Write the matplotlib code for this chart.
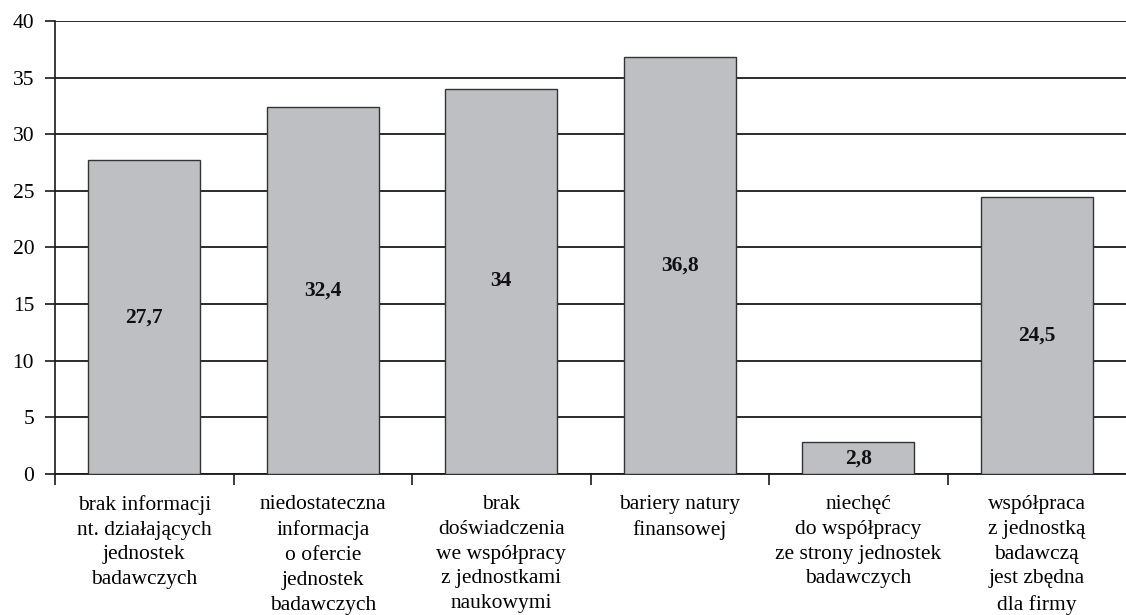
import matplotlib
matplotlib.use("Agg")
import matplotlib.pyplot as plt
import numpy as np

categories = [
    "brak informacji\nnt. działających\njednostek\nbadawczych",
    "niedostateczna\ninformacja\no ofercie\njednostek\nbadawczych",
    "brak\ndoświadczenia\nwe współpracy\nz jednostkami\nnaukowymi",
    "bariery natury\nfinansowej",
    "niechęć\ndo współpracy\nze strony jednostek\nbadawczych",
    "współpraca\nz jednostką\nbadawczą\njest zbędna\ndla firmy",
]
values = [27.7, 32.4, 34.0, 36.8, 2.8, 24.5]
value_labels = ["27,7", "32,4", "34", "36,8", "2,8", "24,5"]
yticks = [0, 5, 10, 15, 20, 25, 30, 35, 40]

plt.rcParams['font.family'] = ['Liberation Serif', 'DejaVu Serif']

fig = plt.figure(figsize=(11.26, 6.15), dpi=100)
ax = fig.add_axes([55/1126, 1 - 474/615, 1 - 55/1126, (474 - 21)/615])

x = np.arange(len(categories))
ax.set_axisbelow(True)
ax.yaxis.grid(True, color='#1a1a1a', linewidth=1.3)
bars = ax.bar(x, values, width=0.63, color='#bebfc2', edgecolor='#333333', linewidth=1.0, zorder=3)

for xi, v, lab in zip(x, values, value_labels):
    ax.text(xi, v / 2, lab, ha='center', va='center', fontsize=15.5, fontweight='bold', color='#111111', zorder=4)

ax.set_xlim(-0.5, 5.5)
ax.set_ylim(0, 40)
ax.set_yticks(yticks)
ax.set_yticklabels([str(t) for t in yticks], fontsize=15.5)
ax.tick_params(axis='y', length=7, width=1.2, color='#1a1a1a', pad=8)

ax.set_xticks(x)
ax.set_xticklabels(categories, fontsize=15.5, linespacing=1.42, va='top')
ax.tick_params(axis='x', which='major', length=0, pad=15)
ax.set_xticks(np.arange(-0.5, 5.0, 1.0), minor=True)
ax.tick_params(axis='x', which='minor', length=8, width=1.2, color='#1a1a1a', direction='out')

for s in ['top', 'right']:
    ax.spines[s].set_visible(False)
ax.spines['left'].set_color('#1a1a1a')
ax.spines['left'].set_linewidth(1.2)
ax.spines['bottom'].set_color('#1a1a1a')
ax.spines['bottom'].set_linewidth(1.3)

fig.savefig("out.png", dpi=100)
